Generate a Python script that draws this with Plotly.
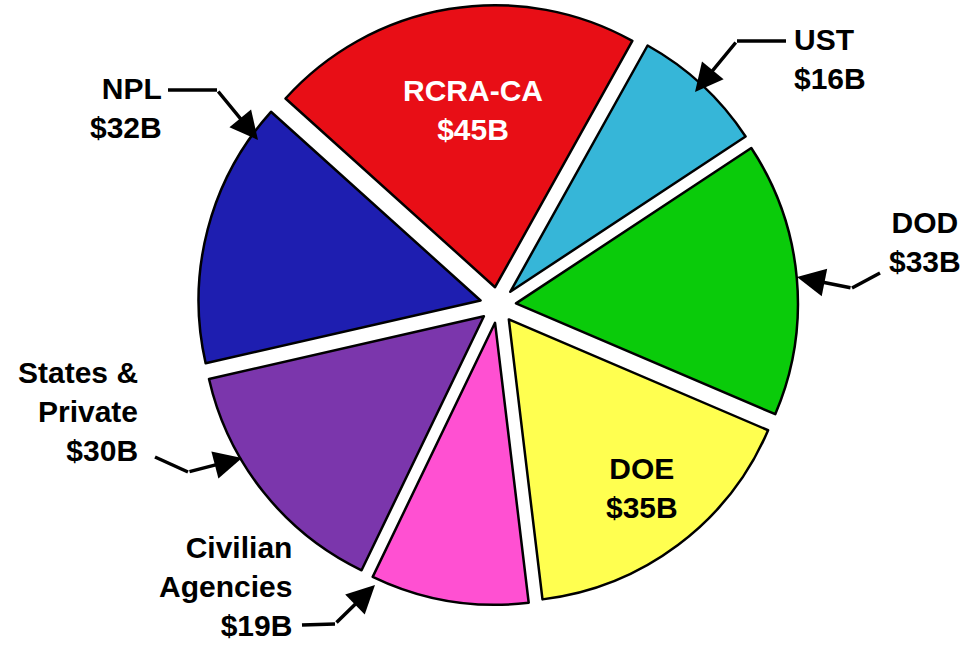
import plotly.graph_objects as go

labels = ["RCRA-CA", "UST", "DOD", "DOE", "Civilian<br>Agencies", "States &<br>Private", "NPL"]
values = [45, 16, 33, 35, 19, 30, 32]
colors = ["#E80E16", "#36B6D8", "#0ACB0A", "#FFFF50", "#FF50D2", "#7B36AC", "#1E1EB0"]
value_text = ["$%dB" % v for v in values]

W, H = 964, 645

def px(x):
    return x / W

def py(y):
    return 1 - y / H

fig = go.Figure(go.Pie(
    labels=labels, values=values, sort=False, direction="clockwise",
    rotation=-48, pull=[0.064] * len(values),
    marker=dict(colors=colors, line=dict(color="black", width=2.5)),
    textinfo="none", hoverinfo="label+value", showlegend=False,
    domain=dict(x=[px(198), px(798)], y=[py(605), py(5)]),
))

font = dict(family="Liberation Sans, Arial, sans-serif", size=30, color="black")
ann = []
shapes = []

def label(i, x, y, xanchor="center", align="center", color="black"):
    ann.append(dict(text="<b>%s<br>%s</b>" % (labels[i], value_text[i]), x=px(x), y=py(y),
                    xref="paper", yref="paper", showarrow=False, xanchor=xanchor,
                    yanchor="middle", align=align, font=dict(font, color=color)))

def leader(points):
    # polyline (all but last segment) then arrow on last segment
    for (x0, y0), (x1, y1) in zip(points[:-2], points[1:-1]):
        shapes.append(dict(type="line", xref="paper", yref="paper",
                           x0=px(x0), y0=py(y0), x1=px(x1), y1=py(y1),
                           line=dict(color="black", width=3.5)))
    (tx, ty), (hx, hy) = points[-2], points[-1]
    ann.append(dict(text="", x=px(hx), y=py(hy), xref="paper", yref="paper",
                    ax=tx - hx, ay=ty - hy, showarrow=True, arrowhead=2,
                    arrowsize=1.6, arrowwidth=3.5, arrowcolor="black"))

# inside labels
label(0, 473, 110, color="white")
label(3, 642, 488)
# outside labels
label(6, 164, 108, xanchor="right", align="right")
leader([(168, 90), (217, 90), (258, 140)])
label(1, 792, 59, xanchor="left", align="left")
leader([(786, 41), (737, 41), (695, 92)])
label(2, 925, 242)
leader([(880, 273), (852, 288), (797, 277)])
label(5, 140, 411, xanchor="right", align="right")
leader([(155, 457), (188, 472), (242, 458)])
label(4, 294, 586, xanchor="right", align="right")
leader([(302, 625), (335, 624), (375, 585)])

fig.update_layout(width=W, height=H, margin=dict(l=0, r=0, t=0, b=0),
                  paper_bgcolor="white", plot_bgcolor="white",
                  annotations=ann, shapes=shapes)
fig.write_html("out.html")
